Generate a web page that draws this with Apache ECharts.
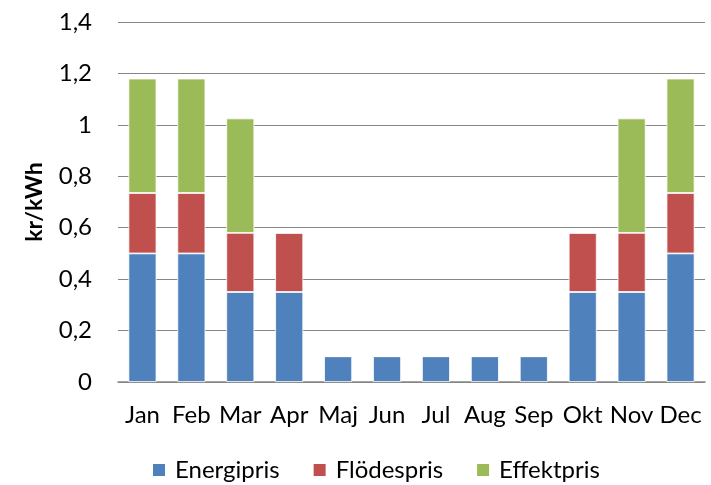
<!DOCTYPE html>
<html>
<head>
<meta charset="utf-8">
<script src="https://cdn.jsdelivr.net/npm/echarts@6/dist/echarts.min.js"></script>
<style>
  html, body { margin: 0; padding: 0; background: #fff; }
  #chart { width: 711px; height: 485px; }
</style>
</head>
<body>
<div id="chart"></div>
<script>
var months = ['Jan', 'Feb', 'Mar', 'Apr', 'Maj', 'Jun', 'Jul', 'Aug', 'Sep', 'Okt', 'Nov', 'Dec'];
var energipris = [0.5, 0.5, 0.35, 0.35, 0.1, 0.1, 0.1, 0.1, 0.1, 0.35, 0.35, 0.5];
var flodespris = [0.235, 0.235, 0.23, 0.23, 0, 0, 0, 0, 0, 0.23, 0.23, 0.235];
var effektpris = [0.445, 0.445, 0.445, 0, 0, 0, 0, 0, 0, 0, 0.445, 0.445];

var font = 'Lato, "Open Sans", sans-serif';
var chart = echarts.init(document.getElementById('chart'));

function bar(name, data, color) {
    return {
        name: name,
        type: 'bar',
        stack: 'total',
        data: data,
        barWidth: 28,
        itemStyle: { color: color, borderColor: '#fff', borderWidth: 0.8 }
    };
}

chart.setOption({
    animation: false,
    textStyle: { fontFamily: font },
    grid: { left: 118, right: 6, top: 22, bottom: 103 },
    legend: {
        bottom: -2,
        left: 146,
        itemWidth: 14,
        itemHeight: 14,
        itemGap: 32,
        icon: 'rect',
        textStyle: { fontSize: 24, color: '#000', fontFamily: font, padding: [0, 0, 0, 4] }
    },
    xAxis: {
        type: 'category',
        data: months,
        axisTick: { show: false },
        axisLine: { lineStyle: { color: '#868686', width: 1.5 } },
        axisLabel: { fontSize: 24, color: '#000', margin: 21, interval: 0 }
    },
    yAxis: {
        type: 'value',
        min: 0,
        max: 1.4,
        interval: 0.2,
        name: 'kr/kWh',
        nameLocation: 'center',
        nameGap: 72,
        nameTextStyle: { fontSize: 23, fontWeight: 'bold', color: '#000' },
        axisLabel: {
            fontSize: 24,
            color: '#000',
            margin: 26,
            formatter: function (v) { return String(Math.round(v * 10) / 10).replace('.', ','); }
        },
        splitLine: { lineStyle: { color: '#868686', width: 1.2 } }
    },
    series: [
        bar('Energipris', energipris, '#4F81BD'),
        bar('Flödespris', flodespris, '#C0504D'),
        bar('Effektpris', effektpris, '#9BBB59')
    ]
});
</script>
</body>
</html>
